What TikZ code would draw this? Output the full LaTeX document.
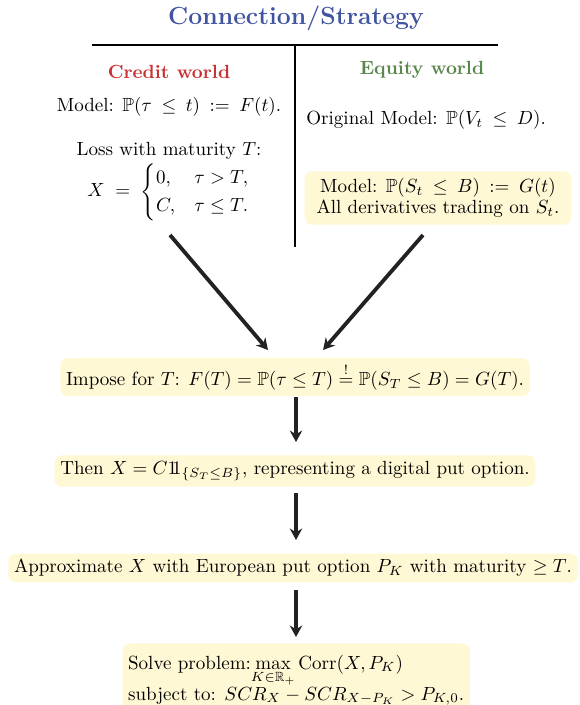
\documentclass[tikz,border=0pt]{standalone}
\usepackage{amsmath,amssymb}
\usetikzlibrary{arrows.meta}
\definecolor{titleblue}{RGB}{64,84,160}
\definecolor{credred}{RGB}{200,50,50}
\definecolor{eqgreen}{RGB}{90,135,75}
\definecolor{boxfill}{RGB}{255,248,212}
\definecolor{arrowcol}{RGB}{34,34,34}
\newcommand{\myindic}{\mathrm{1\kern-0.27em 1}}
\tikzset{
  ybox/.style={fill=boxfill, rounded corners=4pt, inner sep=3pt},
  txt/.style={inner sep=0pt, align=center},
  bigarrow/.style={draw=arrowcol, line width=2pt, -{Stealth[length=6pt,width=6.5pt]}},
  rule/.style={draw=black, line width=0.6pt}
}
\begin{document}
\begin{tikzpicture}[x=0.525pt,y=-0.525pt]
\useasboundingbox (0,0) rectangle (579,705);
\node[txt, text=titleblue, font=\fontsize{13}{15}\selectfont\bfseries] (title) at (296,18) {Connection/Strategy};
\coordinate (hl) at (92,45);
\coordinate (hr) at (498,45);
\coordinate (vt) at (295,45);
\coordinate (vb) at (295,247);
\draw[rule] (hl) -- (hr);
\draw[rule] (vt) -- (vb);
\node[txt, text=credred, font=\bfseries] (credit) at (169,72) {Credit world};
\node[txt] (model1) at (169,107) {Model: $\mathbb{P}(\tau\:\leq\:t)\::=\:F(t)$.};
\node[txt] (loss) at (169,151) {Loss with maturity $T$:};
\node[txt] (cases) at (169,192) {$X\;=\;\begin{cases}0, & \tau>T,\\ C, & \tau\leq T.\end{cases}$};
\node[txt, text=eqgreen, font=\bfseries] (equity) at (422,70) {Equity world};
\node[txt, anchor=west] (orig) at (306,120) {Original Model: $\mathbb{P}(V_t\:\leq\:D)$.};
\node[ybox, align=center, minimum width=140pt, minimum height=28pt] (eqbox) at (438,198) {Model: $\mathbb{P}(S_t\:\leq\:B)\::=\:G(t)$\\[-1pt] All derivatives trading on $S_t$.};
\node[ybox] (b1) at (295,377) {Impose for $T$: $F(T)=\mathbb{P}(\tau\leq T)\overset{!}{=}\mathbb{P}(S_T\leq B)=G(T)$.};
\node[ybox] (b2) at (295,471) {Then $X=C\myindic_{\{S_T\leq B\}}$, representing a digital put option.};
\node[ybox] (b3) at (293,568) {Approximate $X$ with European put option $P_K$ with maturity $\geq T$.};
\node[ybox, inner ysep=6pt, align=left, anchor=north west] (b4) at (122,643) {Solve problem:$\displaystyle\max_{K\in\mathbb{R}_+}\mathrm{Corr}(X,P_K)$\\[-1pt] subject to: $SCR_X-SCR_{X-P_K}>P_{K,0}$.};
\coordinate (la) at (170,235);
\coordinate (ra) at (423,235);
\coordinate (lb) at (268,350);
\coordinate (rb) at (323,350);
\coordinate (a1s) at (296,397);
\coordinate (a1e) at (296,442);
\coordinate (a2s) at (296,493);
\coordinate (a2e) at (296,540);
\coordinate (a3s) at (296,590);
\coordinate (a3e) at (296,637);
\draw[bigarrow] (la) -- (lb);
\draw[bigarrow] (ra) -- (rb);
\draw[bigarrow] (a1s) -- (a1e);
\draw[bigarrow] (a2s) -- (a2e);
\draw[bigarrow] (a3s) -- (a3e);
\end{tikzpicture}
\end{document}
